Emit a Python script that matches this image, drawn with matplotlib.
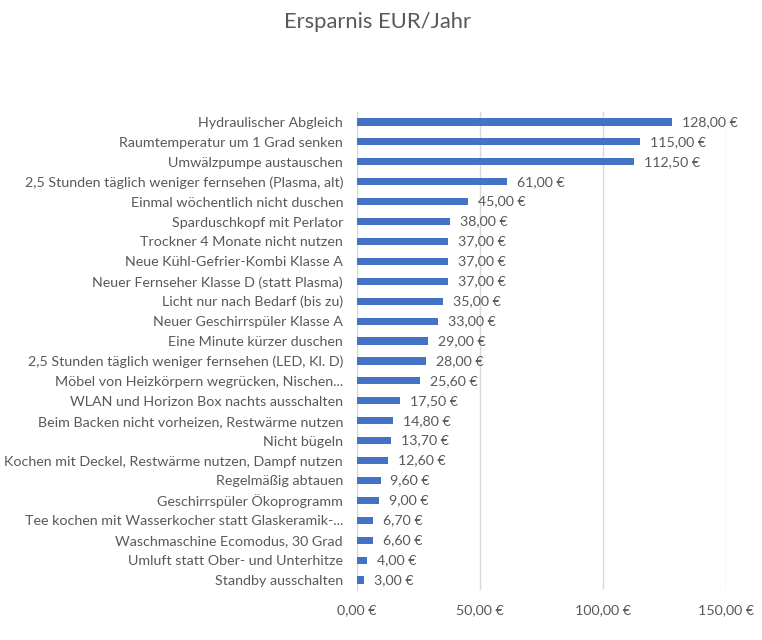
import matplotlib
matplotlib.use("Agg")
import matplotlib.pyplot as plt

categories = [
    "Hydraulischer Abgleich",
    "Raumtemperatur um 1 Grad senken",
    "Umwälzpumpe austauschen",
    "2,5 Stunden täglich weniger fernsehen (Plasma, alt)",
    "Einmal wöchentlich nicht duschen",
    "Sparduschkopf mit Perlator",
    "Trockner 4 Monate nicht nutzen",
    "Neue Kühl-Gefrier-Kombi Klasse A",
    "Neuer Fernseher Klasse D (statt Plasma)",
    "Licht nur nach Bedarf (bis zu)",
    "Neuer Geschirrspüler Klasse A",
    "Eine Minute kürzer duschen",
    "2,5 Stunden täglich weniger fernsehen (LED, Kl. D)",
    "Möbel von Heizkörpern wegrücken, Nischen...",
    "WLAN und Horizon Box nachts ausschalten",
    "Beim Backen nicht vorheizen, Restwärme nutzen",
    "Nicht bügeln",
    "Kochen mit Deckel, Restwärme nutzen, Dampf nutzen",
    "Regelmäßig abtauen",
    "Geschirrspüler Ökoprogramm",
    "Tee kochen mit Wasserkocher statt Glaskeramik-...",
    "Waschmaschine Ecomodus, 30 Grad",
    "Umluft statt Ober- und Unterhitze",
    "Standby ausschalten",
]
values = [128.0, 115.0, 112.5, 61.0, 45.0, 38.0, 37.0, 37.0, 37.0, 35.0, 33.0,
          29.0, 28.0, 25.6, 17.5, 14.8, 13.7, 12.6, 9.6, 9.0, 6.7, 6.6, 4.0, 3.0]
xticks = [0, 50, 100, 150]
title = "Ersparnis EUR/Jahr"

def eur(v):
    return f"{v:,.2f}".replace(",", "X").replace(".", ",").replace("X", ".") + " €"

plt.rcParams['font.family'] = ['Lato', 'DejaVu Sans']
txt = "#595959"

fig = plt.figure(figsize=(7.62, 6.4), dpi=100)
ax = fig.add_axes([357/762, 1-590/640, (726-357)/762, (590-112)/640])

n = len(categories)
ypos = list(range(n))
ax.barh(ypos, values, height=0.36, color="#4472C4", zorder=3)
for y, v in zip(ypos, values):
    ax.text(v + 4, y, eur(v), va="center", ha="left", fontsize=10.2, color=txt)

ax.set_ylim(n - 0.5, -0.5)
ax.set_yticks(ypos)
ax.set_yticklabels(categories, fontsize=10.3, color=txt)
ax.set_xlim(0, 150)
ax.set_xticks(xticks)
ax.set_xticklabels([eur(v) for v in xticks], fontsize=10.3, color=txt)
ax.tick_params(axis="both", length=0)
ax.tick_params(axis="y", pad=10)
ax.tick_params(axis="x", pad=10)
ax.grid(axis="x", color="#D9D9D9", linewidth=1, zorder=0)
for s in ["top", "right", "bottom"]:
    ax.spines[s].set_visible(False)
ax.spines["left"].set_color("#D9D9D9")
ax.set_facecolor("none")

fig.text(377/762, 1-22/640, title, ha="center", va="center", fontsize=15.8, color=txt)

fig.savefig("out.png", dpi=100)
